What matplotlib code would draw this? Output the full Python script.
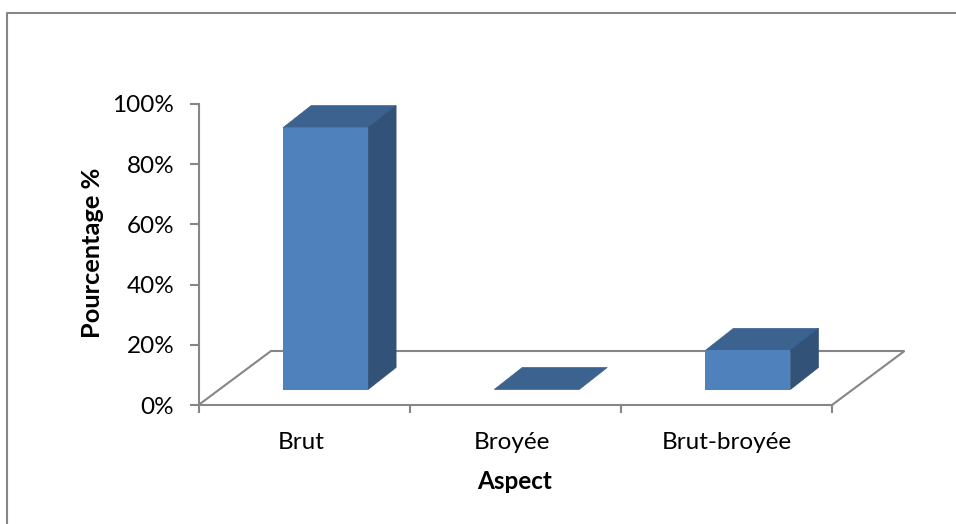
import matplotlib
matplotlib.use('Agg')
import matplotlib.pyplot as plt
from matplotlib.lines import Line2D
from matplotlib.patches import Polygon
from matplotlib.transforms import Affine2D

plt.rcParams['font.family'] = ['Lato', 'DejaVu Sans']

categories = ['Brut', 'Broyée', 'Brut-broyée']
values = [87, 0, 13]  # %
y_ticks = [0, 20, 40, 60, 80, 100]

W, H = 956, 524
GREY = '#868686'
FRONT = '#4f81bd'
TOP = '#3c6290'
SIDE = '#325278'

fig = plt.figure(figsize=(W / 100, H / 100), dpi=100)
ax = fig.add_axes([198.5 / W, 1 - 405 / H, 633.5 / W, 301 / H])
ax.set_xlim(0, 3)
ax.set_ylim(0, 100)
ax.patch.set_alpha(0)

# outer frame of the sheet, bottom and right are cut off
fig.add_artist(Line2D([7 / W, 7 / W, 1], [0, 1 - 13 / H, 1 - 13 / H], color=GREY, lw=1.5))

# floor of the 3d box
floor = ax.transData + Affine2D().translate(72.5, 54)
back = [ax.transData.transform((0, 0)), floor.transform((0, 0)),
        floor.transform((3, 0)), ax.transData.transform((3, 0))]
ax.add_patch(Polygon(back, closed=False, fill=False, edgecolor=GREY, lw=1.5,
                     transform=None, zorder=1, clip_on=False))

# bars: front sits forward of the axis plane, depth goes back up and right
bar_w = 85 / (633.5 / 3)
front = ax.transData + Affine2D().translate(21.5, 15.5)
depth = front + Affine2D().translate(28, 22)
for i, v in enumerate(values):
    xc = i + 0.5
    x0, x1 = xc - bar_w / 2, xc + bar_w / 2
    ax.add_patch(Polygon([front.transform((x0, v)), front.transform((x1, v)),
                          depth.transform((x1, v)), depth.transform((x0, v))],
                         facecolor=TOP, edgecolor=TOP, lw=0.5, transform=None, zorder=3))
    if v > 0:
        ax.add_patch(Polygon([front.transform((x1, 0)), depth.transform((x1, 0)),
                              depth.transform((x1, v)), front.transform((x1, v))],
                             facecolor=SIDE, edgecolor=SIDE, lw=0.5, transform=None, zorder=3))
ax.bar([i + 0.5 for i in range(3)], values, bar_w, color=FRONT, transform=front, zorder=4)
ax.set_xlim(0, 3)
ax.set_ylim(0, 100)

for s in ['top', 'right']:
    ax.spines[s].set_visible(False)
for s in ['left', 'bottom']:
    ax.spines[s].set_color(GREY)
    ax.spines[s].set_linewidth(1.5)

ax.set_yticks(y_ticks)
ax.set_yticklabels([f'{t}%' for t in y_ticks], fontsize=17.5, color='black')
ax.tick_params(axis='y', length=6.5, width=1.5, color=GREY, pad=11)
ax.set_xticks([0, 1, 2, 3])
ax.set_xticklabels([])
ax.tick_params(axis='x', length=5.5, width=1.5, color=GREY)
ax.set_xticks([0.485, 1.485, 2.5], categories, minor=True, fontsize=17.5)
ax.tick_params(axis='x', which='minor', length=0, pad=19.5)

fig.text(515 / W, 1 - 481.5 / H, 'Aspect', fontsize=17.5, fontweight='bold', ha='center', va='center')
fig.text(92 / W, 1 - 253 / H, 'Pourcentage %', fontsize=18.3, fontweight='bold',
         rotation=90, ha='center', va='center')

fig.savefig('out.png', dpi=100)
